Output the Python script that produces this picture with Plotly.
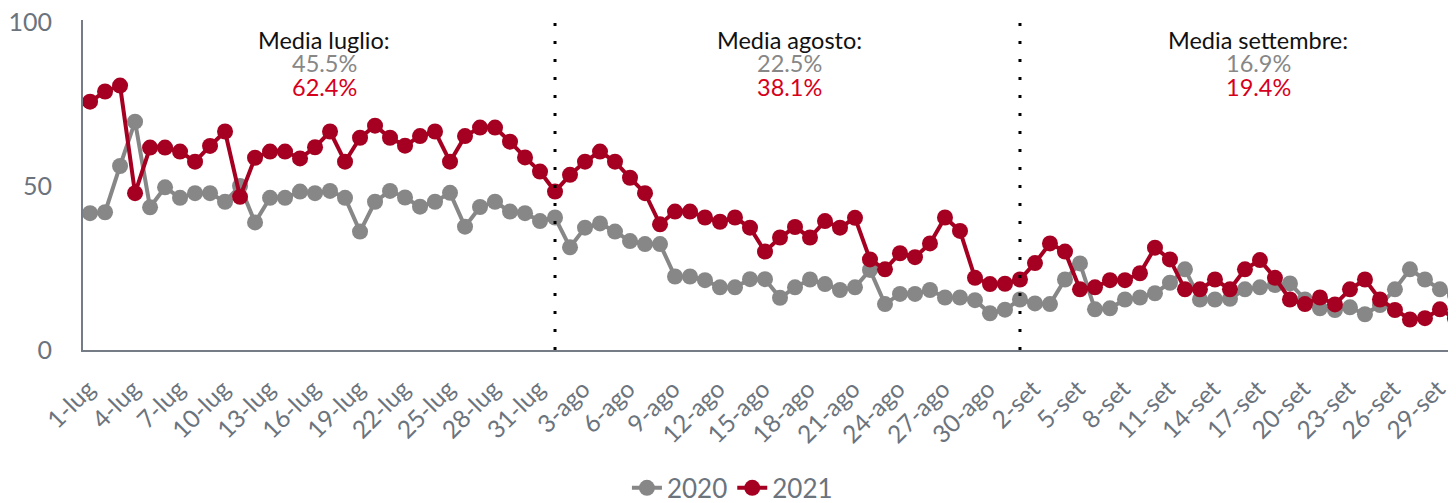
import plotly.graph_objects as go

# day labels 1-lug ... 30-set
MONTHS = [("lug", 31), ("ago", 31), ("set", 30)]
day_labels = [f"{d}-{m}" for m, n in MONTHS for d in range(1, n + 1)]

share_2020 = [
    41.7, 42.0, 56.1, 69.6, 43.5, 49.6, 46.4, 47.8, 47.8, 45.2,
    50.0, 38.9, 46.4, 46.4, 48.3, 47.8, 48.5, 46.4, 36.1, 45.2,
    48.5, 46.5, 43.7, 45.2, 47.9, 37.6, 43.6, 45.2, 42.2, 41.7,
    39.3, 40.4, 31.3, 37.3, 38.6, 36.1, 33.2, 32.3, 32.3, 22.4,
    22.4, 21.3, 19.1, 19.1, 21.6, 21.6, 15.9, 19.1, 21.5, 20.1,
    18.3, 19.1, 24.4, 14.0, 17.1, 17.1, 18.3, 16.0, 16.0, 15.2,
    11.2, 12.3, 15.4, 14.2, 14.0, 21.5, 26.4, 12.4, 12.7, 15.4,
    16.0, 17.3, 20.5, 24.6, 15.4, 15.4, 15.6, 18.5, 19.1, 19.8,
    20.3, 15.4, 12.7, 12.2, 13.0, 10.9, 13.7, 18.5, 24.6, 21.5,
    18.5, 16.8,
]

share_2021 = [
    75.7, 78.8, 80.6, 47.8, 61.7, 61.7, 60.5, 57.4, 62.2, 66.6,
    46.7, 58.6, 60.5, 60.5, 58.4, 61.8, 66.6, 57.4, 64.7, 68.4,
    64.7, 62.3, 65.2, 66.6, 57.4, 65.2, 67.8, 67.8, 63.5, 58.7,
    54.4, 48.3, 53.4, 57.4, 60.5, 57.4, 52.5, 47.8, 38.3, 42.2,
    42.2, 40.4, 39.1, 40.4, 37.3, 30.0, 34.3, 37.5, 34.3, 39.3,
    37.3, 40.3, 27.6, 24.6, 29.5, 28.3, 32.5, 40.4, 36.3, 22.0,
    20.1, 20.2, 21.5, 26.5, 32.5, 30.0, 18.5, 19.1, 21.3, 21.3,
    23.4, 31.2, 27.6, 18.5, 18.5, 21.5, 18.5, 24.6, 27.4, 22.0,
    15.4, 14.0, 16.0, 13.9, 18.5, 21.5, 15.4, 12.2, 9.3, 9.7,
    12.4, 9.7,
]

month_titles = ["Media luglio:", "Media agosto:", "Media settembre:"]
avg_2020 = ["45.5%", "22.5%", "16.9%"]
avg_2021 = ["62.4%", "38.1%", "19.4%"]

GREY = "#878787"
RED = "#a50021"
RED_TXT = "#d6001c"
AXIS = "#767c86"
TICK_TXT = "#6b737d"
FONT = "Lato"

x = list(range(len(day_labels)))

fig = go.Figure()
fig.add_trace(go.Scatter(
    x=x, y=share_2020, name="2020", mode="lines+markers",
    line=dict(color=GREY, width=4),
    marker=dict(color=GREY, size=16),
))
fig.add_trace(go.Scatter(
    x=x, y=share_2021, name="2021", mode="lines+markers",
    line=dict(color=RED, width=4),
    marker=dict(color=RED, size=16),
))

# month separators at 1-ago and 1-set
for lbl in ["1-ago", "1-set"]:
    xi = day_labels.index(lbl)
    fig.add_shape(type="line", xref="x", yref="y", x0=xi, x1=xi, y0=0, y1=101,
                  line=dict(color="black", width=3, dash="3px,15px"))

# month averages
centers = [15.6, 46.6, 77.9]
for cx, title, a20, a21 in zip(centers, month_titles, avg_2020, avg_2021):
    for yv, txt, col in [(94.6, title, "#111111"), (87.4, a20, GREY), (80.2, a21, RED_TXT)]:
        fig.add_annotation(x=cx, y=yv, text=txt, showarrow=False,
                           xanchor="center", yanchor="middle",
                           font=dict(family=FONT, size=23.5, color=col))

fig.update_xaxes(
    range=[-0.47, 91.07], automargin=False,
    tickvals=x[::3], ticktext=day_labels[::3],
    tickangle=-45, showgrid=False, zeroline=False,
    showline=True, linecolor=AXIS, linewidth=2,
    ticks="", ticklabelshift=-2, ticklabelstandoff=13, ticklabeloverflow="allow",
    tickfont=dict(family=FONT, size=24.5, color=TICK_TXT),
)
fig.update_yaxes(
    range=[0, 100.6], tickvals=[0, 50, 100], automargin=False,
    showgrid=False, zeroline=False,
    showline=True, linecolor=AXIS, linewidth=2,
    ticks="", ticklabelstandoff=24, ticklabeloverflow="allow",
    tickfont=dict(family=FONT, size=25, color=TICK_TXT),
)

# page body adds an 8px offset, so the figure is sized to fit the window
fig.update_layout(
    width=1448, height=495,
    margin=dict(l=75, r=0, t=12, b=153, autoexpand=False),
    plot_bgcolor="white", paper_bgcolor="white",
    font=dict(family=FONT),
    legend=dict(orientation="h", x=0.473, xanchor="center", y=-0.418, yanchor="middle",
                font=dict(family=FONT, size=26, color=TICK_TXT),
                itemwidth=30, tracegroupgap=0),
)

fig.write_html("out.html")
